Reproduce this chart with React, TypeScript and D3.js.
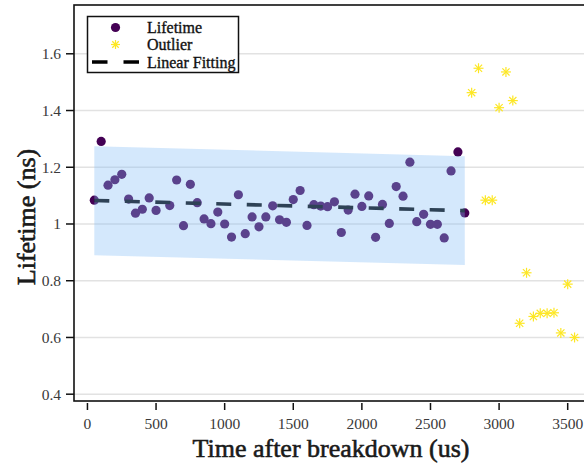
import React from "react";
import * as d3 from "d3";

const lifeX = [50,100,150,200,250,300,350,400,450,500,600,650,700,750,800,850,900,950,1000,1050,1100,1150,1200,1250,1300,1350,1400,1450,1500,1550,1600,1650,1700,1750,1800,1850,1900,1950,2000,2050,2100,2150,2200,2250,2300,2350,2400,2450,2500,2550,2600,2650,2700,2750];
const lifeY = [1.084,1.291,1.137,1.156,1.175,1.088,1.038,1.052,1.092,1.048,1.065,1.155,0.994,1.140,1.075,1.018,1.001,1.042,1.000,0.954,1.103,0.966,1.025,0.990,1.025,1.064,1.015,1.006,1.086,1.118,0.995,1.068,1.063,1.061,1.078,0.970,1.049,1.105,1.062,1.099,0.953,1.069,1.002,1.132,1.098,1.218,1.008,1.034,0.999,0.999,0.951,1.187,1.254,1.039];

const outX = [2800,2850,2900,2950,3000,3050,3100,3150,3200,3250,3300,3350,3400,3450,3500,3550];
const outY = [1.463,1.549,1.084,1.084,1.410,1.536,1.435,0.650,0.828,0.674,0.685,0.685,0.687,0.616,0.788,0.600];

const fitX = [50, 2750];
const fitY = [1.083, 1.047];
const bandUpper = [1.274, 1.239];
const bandLower = [0.890, 0.855];

const xTicks = [0,500,1000,1500,2000,2500,3000,3500];
const yTicks = [0.4,0.6,0.8,1.0,1.2,1.4,1.6];
const yTickLabels = ["0.4","0.6","0.8","1","1.2","1.4","1.6"];

const legendLabels = ["Lifetime", "Outlier", "Linear Fitting"];

const W = 584, H = 465;
const FONT = "'Liberation Serif', 'DejaVu Serif', serif";
const PURPLE = "#440154";
const YELLOW = "#fde725";

function Asterisk({ cx, cy, s = 5 }: { cx: number; cy: number; s?: number }) {
  const d = s * 0.72;
  return (
    <g stroke={YELLOW} strokeWidth={1.2}>
      <line x1={cx - s} y1={cy} x2={cx + s} y2={cy} />
      <line x1={cx} y1={cy - s} x2={cx} y2={cy + s} />
      <line x1={cx - d} y1={cy - d} x2={cx + d} y2={cy + d} />
      <line x1={cx - d} y1={cy + d} x2={cx + d} y2={cy - d} />
    </g>
  );
}

export default function App() {
  const left = 74, top = 5, bottom = 401, right = 640;
  const x = d3.scaleLinear().domain([-98, 3700]).range([left, 87.5 + 3700 * 0.1372]);
  const y = d3.scaleLinear().domain([0.376, 1.772]).range([bottom, top]);

  const fitData = fitX.map((v, i) => ({ x: v, y: fitY[i], u: bandUpper[i], l: bandLower[i] }));
  const line = d3.line<any>().x(d => x(d.x)).y(d => y(d.y));
  const area = d3.area<any>().x(d => x(d.x)).y0(d => y(d.l)).y1(d => y(d.u));

  return (
    <svg width={W} height={H} style={{ position: "absolute", left: 0, top: 0, background: "#fff" }} fontFamily={FONT}>
      <rect x={0} y={0} width={W} height={H} fill="#fff" />
      {yTicks.map(t => (
        <line key={t} x1={left} x2={right} y1={y(t)} y2={y(t)} stroke="#e2e2e2" strokeWidth={1.6} />
      ))}
      {lifeX.map((v, i) => (
        <circle key={i} cx={x(v)} cy={y(lifeY[i])} r={4.6} fill={PURPLE} />
      ))}
      <path d={line(fitData) || ""} fill="none" stroke="#000" strokeWidth={3.6} strokeDasharray="15,15.5" />
      <path d={area(fitData) || ""} fill="#84bdf5" fillOpacity={0.35} />
      {outX.map((v, i) => (
        <Asterisk key={i} cx={x(v)} cy={y(outY[i])} />
      ))}
      <rect x={left} y={top} width={right - left} height={bottom - top} fill="none" stroke="#111" strokeWidth={1.6} />
      {yTicks.map((t, i) => (
        <g key={t}>
          <line x1={66} x2={left} y1={y(t)} y2={y(t)} stroke="#111" strokeWidth={1.5} />
          <text x={61} y={y(t)} dy="0.35em" textAnchor="end" fontSize={15.5} fill="#3a3a3a">{yTickLabels[i]}</text>
        </g>
      ))}
      {xTicks.map(t => (
        <g key={t}>
          <line x1={x(t)} x2={x(t)} y1={403} y2={410} stroke="#111" strokeWidth={1.5} />
          <text x={x(t)} y={429} textAnchor="middle" fontSize={15.5} fill="#3a3a3a">{t}</text>
        </g>
      ))}
      <text x={331} y={457} textAnchor="middle" fontSize={26} fill="#1a1a1a" stroke="#1a1a1a" strokeWidth={0.6}>Time after breakdown (us)</text>
      <text transform={`translate(35,217) rotate(-90)`} textAnchor="middle" fontSize={26} fill="#1a1a1a" stroke="#1a1a1a" strokeWidth={0.6}>Lifetime (ns)</text>
      <g>
        <rect x={87.5} y={16.5} width={151} height={56} fill="#fff" stroke="#111" strokeWidth={1.5} />
        <circle cx={115.5} cy={27.5} r={4.6} fill={PURPLE} />
        <Asterisk cx={115.5} cy={44.5} s={4.5} />
        <line x1={92} x2={139} y1={62} y2={62} stroke="#000" strokeWidth={3.6} strokeDasharray="15.5,16" />
        {legendLabels.map((l, i) => (
          <text key={l} x={147} y={27.5 + i * 17.3} dy="0.35em" fontSize={16} fill="#111" stroke="#111" strokeWidth={0.35}>{l}</text>
        ))}
      </g>
    </svg>
  );
}
